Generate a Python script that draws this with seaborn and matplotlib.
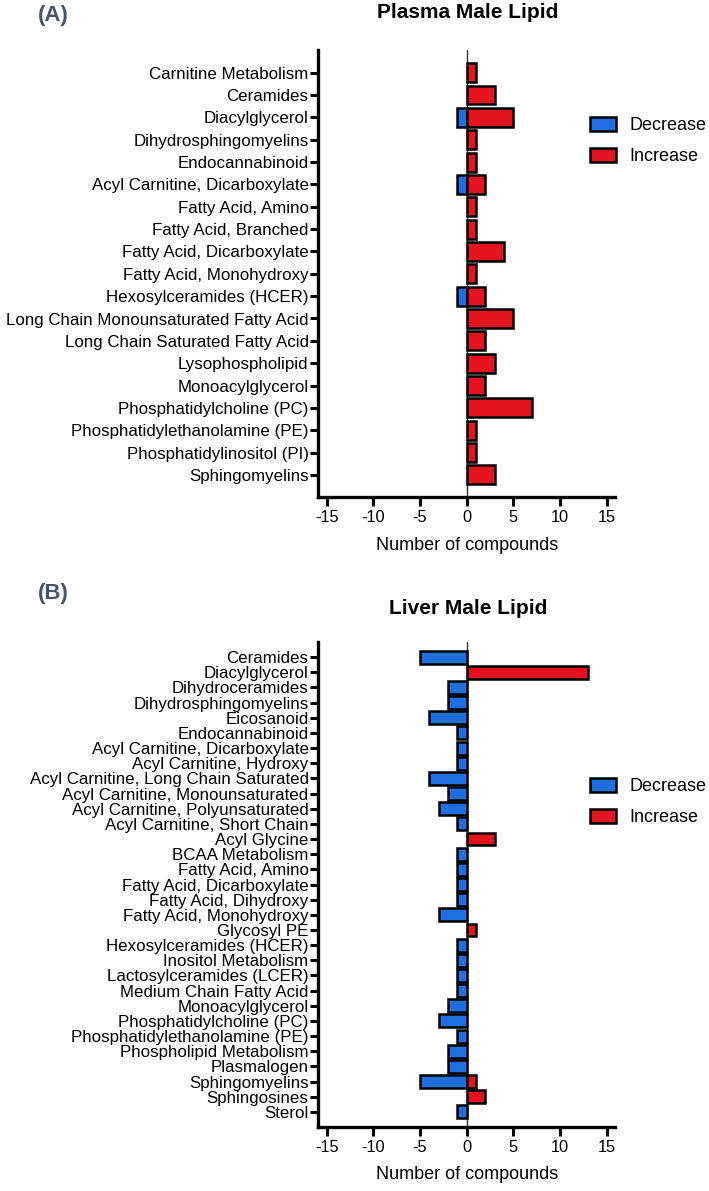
import numpy as np
import pandas as pd
import matplotlib
matplotlib.use("Agg")
import matplotlib.pyplot as plt
import seaborn as sns

# ---------------- data ----------------
plasma_categories = [
    "Carnitine Metabolism", "Ceramides", "Diacylglycerol", "Dihydrosphingomyelins",
    "Endocannabinoid", "Acyl Carnitine, Dicarboxylate", "Fatty Acid, Amino",
    "Fatty Acid, Branched", "Fatty Acid, Dicarboxylate", "Fatty Acid, Monohydroxy",
    "Hexosylceramides (HCER)", "Long Chain Monounsaturated Fatty Acid",
    "Long Chain Saturated Fatty Acid", "Lysophospholipid", "Monoacylglycerol",
    "Phosphatidylcholine (PC)", "Phosphatidylethanolamine (PE)",
    "Phosphatidylinositol (PI)", "Sphingomyelins",
]
plasma_decrease = [0, 0, -1, 0, 0, -1, 0, 0, 0, 0, -1, 0, 0, 0, 0, 0, 0, 0, 0]
plasma_increase = [1, 3, 5, 1, 1, 2, 1, 1, 4, 1, 2, 5, 2, 3, 2, 7, 1, 1, 3]

liver_categories = [
    "Ceramides", "Diacylglycerol", "Dihydroceramides", "Dihydrosphingomyelins",
    "Eicosanoid", "Endocannabinoid", "Acyl Carnitine, Dicarboxylate",
    "Acyl Carnitine, Hydroxy", "Acyl Carnitine, Long Chain Saturated",
    "Acyl Carnitine, Monounsaturated", "Acyl Carnitine, Polyunsaturated",
    "Acyl Carnitine, Short Chain", "Acyl Glycine", "BCAA Metabolism",
    "Fatty Acid, Amino", "Fatty Acid, Dicarboxylate", "Fatty Acid, Dihydroxy",
    "Fatty Acid, Monohydroxy", "Glycosyl PE", "Hexosylceramides (HCER)",
    "Inositol Metabolism", "Lactosylceramides (LCER)", "Medium Chain Fatty Acid",
    "Monoacylglycerol", "Phosphatidylcholine (PC)", "Phosphatidylethanolamine (PE)",
    "Phospholipid Metabolism", "Plasmalogen", "Sphingomyelins", "Sphingosines", "Sterol",
]
liver_decrease = [-5, 0, -2, -2, -4, -1, -1, -1, -4, -2, -3, -1, 0, -1, -1, -1, -1,
                  -3, 0, -1, -1, -1, -1, -2, -3, -1, -2, -2, -5, 0, -1]
liver_increase = [0, 13, 0, 0, 0, 0, 0, 0, 0, 0, 0, 0, 3, 0, 0, 0, 0,
                  0, 1, 0, 0, 0, 0, 0, 0, 0, 0, 0, 1, 2, 0]

x_ticks = [-15, -10, -5, 0, 5, 10, 15]
directions = ["Decrease", "Increase"]
colors = {"Decrease": "#1f6fe0", "Increase": "#e3141f"}


def long_df(cats, dec, inc):
    rows = []
    for c, d, i in zip(cats, dec, inc):
        if d != 0:
            rows.append((c, d, "Decrease"))
        if i != 0:
            rows.append((c, i, "Increase"))
    return pd.DataFrame(rows, columns=["category", "value", "direction"])


# ---------------- style ----------------
sns.set_theme(style="white")
plt.rcParams["font.family"] = ["Liberation Sans", "DejaVu Sans"]
plt.rcParams["text.color"] = "black"
plt.rcParams["axes.labelcolor"] = "black"
plt.rcParams["xtick.color"] = "black"
plt.rcParams["ytick.color"] = "black"

W, H = 709, 1191
fig = plt.figure(figsize=(W / 100, H / 100), dpi=100)


def fx(px):
    return px / W


def fy(py):
    return 1 - py / H


def make_panel(rect, cats, dec, inc, title, title_y, label, label_y, leg_y):
    ax = fig.add_axes(rect)
    df = long_df(cats, dec, inc)
    sns.barplot(data=df, y="category", x="value", hue="direction",
                order=cats, hue_order=directions, palette=colors,
                saturation=1, dodge=False, orient="h", width=0.85,
                edgecolor="black", linewidth=1.8, ax=ax, zorder=3)
    ax.axvline(0, color="#333333", lw=1.0, zorder=1)
    n = len(cats)
    ax.set_ylim(n, -1)
    ax.set_xlim(-15.9, 15.9)
    ax.set_xticks(x_ticks)
    ax.set_xticklabels([str(t) for t in x_ticks], fontsize=11.8)
    ax.set_ylabel("")
    ax.set_xlabel("Number of compounds", fontsize=13, labelpad=8)
    ax.tick_params(axis="y", labelsize=12.2, length=6, width=2.2, pad=1,
                   direction="out", left=True, color="black", labelcolor="black")
    ax.tick_params(axis="x", length=6.5, width=2.2, pad=3,
                   direction="out", bottom=True, color="black", labelcolor="black")
    for s in ["top", "right"]:
        ax.spines[s].set_visible(False)
    for s in ["left", "bottom"]:
        ax.spines[s].set_linewidth(2.4)
        ax.spines[s].set_color("black")
    handles, labels = ax.get_legend_handles_labels()
    if ax.get_legend() is not None:
        ax.get_legend().remove()
    fig.legend(handles, labels, loc="center left",
               bbox_to_anchor=(fx(590), fy(leg_y)), frameon=False,
               fontsize=13, handlelength=1.45, handleheight=0.85,
               handletextpad=0.75, labelspacing=0.78, borderpad=0,
               borderaxespad=0)
    fig.text(fx(468), fy(title_y), title, ha="center", va="center",
             fontsize=15, fontweight="bold", color="black")
    fig.text(fx(53), fy(label_y), label, ha="center", va="center",
             fontsize=16, fontweight="bold", color="#45546d")
    return ax


# Panel A
make_panel([fx(318.3), fy(497.3), fx(615) - fx(318.3), fy(50.3) - fy(497.3)],
           plasma_categories, plasma_decrease, plasma_increase,
           "Plasma Male Lipid", 12, "(A)", 15, 141)

# Panel B
make_panel([fx(318.3), fy(1127), fx(615) - fx(318.3), fy(642) - fy(1127)],
           liver_categories, liver_decrease, liver_increase,
           "Liver Male Lipid", 609, "(B)", 593, 802)

fig.savefig("out.png", dpi=100)
